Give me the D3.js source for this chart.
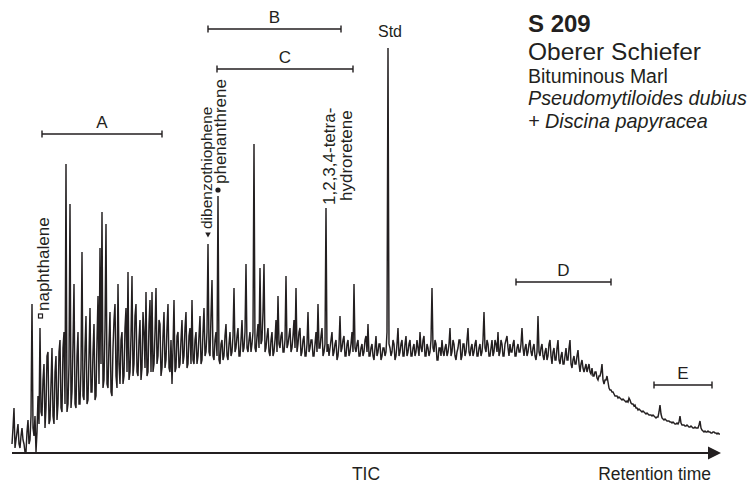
<!DOCTYPE html>
<html><head><meta charset="utf-8">
<script src="https://cdn.jsdelivr.net/npm/d3@7/dist/d3.min.js"></script>
<style>
body{margin:0;background:#fff}
svg{display:block}
text{font-family:"Liberation Sans",Arial,Helvetica,sans-serif;fill:#231f20}
</style>
</head><body>
<svg id="chart" width="753" height="486"></svg>
<script>
// TIC intensity (Std peak ~ 101), one value per scan
const tic = [
 2,6,11,1,3,5,7,2,1,4,6,3,2,0,0,5,8,2,3,9,
 37,6,4,9,0,5,14,7,31,10,9,18,22,6,11,24,25,7,8,17,
 26,9,7,20,24,8,12,25,28,11,10,26,30,12,72,10,12,22,62,11,
 15,27,42,12,11,24,30,12,12,21,50,14,13,26,34,12,13,24,36,15,
 15,25,32,13,14,28,39,17,51,22,60,16,18,31,57,17,16,27,35,15,
 14,26,33,37,19,16,42,22,17,28,30,17,19,31,36,20,45,18,20,29,
 44,19,22,34,37,20,19,28,33,18,21,35,30,21,40,19,20,32,38,20,
 40,20,22,30,41,22,24,33,32,19,21,29,35,21,23,31,37,21,20,28,
 17,26,38,20,21,29,30,21,22,28,33,22,24,31,35,21,22,29,31,22,
 38,23,22,28,30,22,24,29,34,22,23,30,36,24,25,30,52,25,24,34,
 43,24,23,28,30,24,64,23,22,27,28,23,24,29,32,24,23,27,30,24,
 25,29,41,25,26,29,31,24,24,28,33,25,26,30,47,26,25,28,30,25,
 27,30,77,26,25,29,32,26,46,27,28,35,47,25,26,29,31,25,24,28,
 30,24,25,28,33,25,39,27,26,29,30,25,25,28,44,26,27,29,31,25,
 26,29,33,26,41,25,27,30,31,24,25,28,29,24,24,27,35,25,26,28,
 28,24,24,27,30,25,37,26,26,29,31,24,25,27,61,25,27,24,26,28,
 30,24,25,27,28,23,24,27,34,25,26,28,29,24,24,27,28,24,25,27,
 30,25,42,26,25,27,28,24,24,26,27,24,25,28,29,25,32,24,24,26,
 27,24,23,26,29,24,25,27,27,23,24,26,26,24,25,30,101,27,26,24,
 25,28,27,23,24,27,31,24,25,27,28,24,24,27,29,24,25,27,28,24,
 24,26,27,24,25,28,26,24,30,26,25,28,29,24,24,27,26,24,25,28,
 41,26,25,28,27,23,23,26,26,24,28,25,24,26,27,24,25,27,31,24,
 25,28,27,24,23,25,26,28,28,23,24,27,27,24,25,28,31,25,24,26,
 27,24,25,27,28,24,24,26,27,24,25,28,35,26,25,28,27,24,24,26,
 28,24,25,28,27,25,30,24,25,28,27,24,24,27,28,29,26,24,27,25,
 25,27,28,24,24,26,27,25,25,27,31,26,24,26,27,24,25,27,28,25,
 24,26,27,24,23,25,34,25,24,26,27,24,23,25,26,23,24,27,28,24,
 22,25,26,23,23,26,28,23,22,24,25,22,22,24,26,23,23,26,28,22,
 21,23,24,22,22,24,25.5,22,20,22,23,21,20,21,22,20,21,22,20,19.5,
 21,19,19,20,20,18.5,18,19,19,20,22,18,17,18,18,19,17.5,16,15.5,15.5,
 15,15,14.5,14,14,14,13.5,13.75,13.5,13.25,13,13.25,13,12.75,12.5,12.75,12.5,13.5,13,12.25,
 12,12,11.5,11.75,11,11,10.5,10.75,10.5,10.25,10,10.25,10,9.75,9.5,9.75,9.5,9.25,9.25,9.25,
 9,9.25,9,8.75,8.5,8.75,8.75,10,11.75,9.5,8.5,8.25,8,8.25,8,7.75,7.75,7.75,7.5,7.5,
 7.25,7.5,7.25,7,7,7.25,7,7.5,9,7.25,6.75,6.75,6.75,6.5,6.5,6.75,6.5,6.25,6.25,6.5,
 6.25,6,6,6.25,6,6,6,6.75,7.75,6,5.5,5.25,5,5.25,5,5,5.25,5,5,4.75,
 4.75,5,5,4.75,4.75,4.5,4.75,4.5,4.5
];

// Fraction ranges (scan numbers)
const rangeLabels = ["A", "B", "C", "D", "E"];
const rangeStart  = [30, 196, 205, 504, 642];
const rangeEnd    = [150, 329, 341, 599, 700];

// Identified compounds (scan numbers)
const compoundLabels = [["naphthalene"], ["dibenzothiophene"], ["phenanthrene"], ["1,2,3,4-tetra-", "hydroretene"], ["Std"]];
const compoundScans  = [28, 196, 206, 314, 376];
const compoundMarks  = ["square", "triangle", "circle", "none", "none"];

const titleLines = ["S 209", "Oberer Schiefer", "Bituminous Marl", "Pseudomytiloides dubius", "+ Discina papyracea"];
const axisLabels = ["TIC", "Retention time"];

// ---------- layout ----------
const ink = "#231f20";
const svg = d3.select("#chart");

const x = d3.scaleLinear().domain([0, tic.length - 1]).range([12, 720]);
const y = d3.scaleLinear().domain([0, 101]).range([452, 48]);
const xEnd = x(tic.length - 1);

// baseline axis with arrow
const axisG = svg.append("g").attr("transform", "translate(0,453)")
  .call(d3.axisBottom(x).tickValues([]).tickSizeOuter(0));
axisG.select(".domain").attr("stroke", ink).attr("stroke-width", 2).attr("d", `M${x(0)},0H${xEnd - 6}`);
svg.append("path")
  .attr("d", `M${xEnd - 12},${453 - 6.5}L${xEnd + 1},453L${xEnd - 12},${453 + 6.5}Z`)
  .attr("fill", ink);

// trace
svg.append("path")
  .datum(tic)
  .attr("fill", "none")
  .attr("stroke", ink)
  .attr("stroke-width", 1.45)
  .attr("d", d3.line().x((d, i) => x(i)).y(d => y(d)));

// axis labels
svg.append("text").attr("x", 366).attr("y", 480).attr("text-anchor", "middle")
  .style("font-size", "17.5px").text(axisLabels[0]);
svg.append("text").attr("x", 711).attr("y", 480).attr("text-anchor", "end")
  .style("font-size", "17.5px").text(axisLabels[1]);

// range bars
const rangeY = [134, 29, 69, 282, 385];
rangeLabels.forEach((lab, i) => {
  const g = svg.append("g");
  const x0 = x(rangeStart[i]), x1 = x(rangeEnd[i]), yy = rangeY[i];
  g.append("path").attr("d", `M${x0},${yy}H${x1}M${x0},${yy - 3.5}V${yy + 3.5}M${x1},${yy - 3.5}V${yy + 3.5}`)
    .attr("stroke", ink).attr("stroke-width", 1.4).attr("fill", "none");
  g.append("text").attr("x", (x0 + x1) / 2).attr("y", yy - 6.5).attr("text-anchor", "middle")
    .style("font-size", "17px").text(lab);
});

// compound labels
const labelLayout = [
  {dx: 9, bottom: 311, mark: 316, size: 17},
  {dx: 4, bottom: 229, mark: 235, size: 15.5},
  {dx: 8, bottom: 184, mark: 190, size: 17},
  {dx: 9, bottom: 205, mark: 0,   size: 17},
  {dx: 2, bottom: 37,  mark: 0,   size: 16}
];
compoundLabels.forEach((lines, i) => {
  const px = x(compoundScans[i]);
  const L = labelLayout[i];
  if (i === 4) {
    svg.append("text").attr("x", px + L.dx).attr("y", L.bottom).attr("text-anchor", "middle")
      .style("font-size", L.size + "px").text(lines[0]);
    return;
  }
  lines.forEach((t, j) => {
    svg.append("text")
      .attr("transform", `translate(${px + L.dx + j * 17},${L.bottom - j * 4}) rotate(-90)`)
      .style("font-size", L.size + "px").text(t);
  });
  const m = compoundMarks[i];
  if (m === "square") {
    svg.append("rect").attr("x", px - 1.5).attr("y", L.mark - 2).attr("width", 4).attr("height", 4)
      .attr("fill", "#fff").attr("stroke", ink).attr("stroke-width", 1.2);
  } else if (m === "triangle") {
    svg.append("path").attr("d", `M${px - 2.8},${L.mark - 2.5}L${px + 2.8},${L.mark - 2.5}L${px},${L.mark + 2.5}Z`).attr("fill", ink);
  } else if (m === "circle") {
    svg.append("circle").attr("cx", px).attr("cy", L.mark).attr("r", 2.6).attr("fill", ink);
  }
});

// title block
const tSizes = [24, 24.5, 19.5, 19.8, 19.8];
const tY = [32, 60, 83, 105, 128];
titleLines.forEach((t, i) => {
  svg.append("text").attr("x", 528).attr("y", tY[i])
    .style("font-size", tSizes[i] + "px")
    .style("font-weight", i === 0 ? "bold" : "normal")
    .style("font-style", i >= 3 ? "italic" : "normal")
    .text(t);
});
</script>
</body></html>
